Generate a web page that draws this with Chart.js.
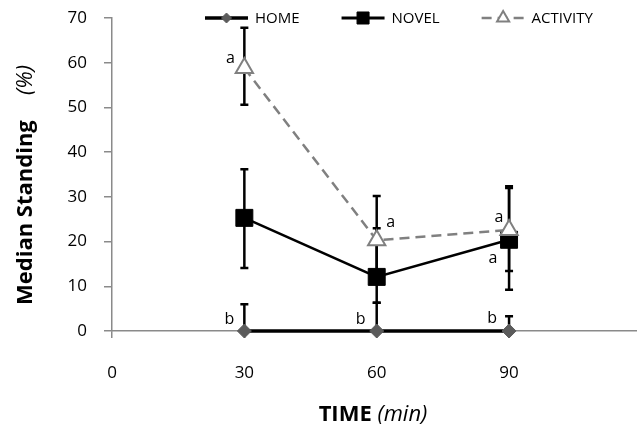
<!DOCTYPE html>
<html>
<head>
<meta charset="utf-8">
<script src="https://cdn.jsdelivr.net/npm/chart.js@4/dist/chart.umd.min.js"></script>
<style>
  html, body { margin: 0; padding: 0; background: #fff; }
  #wrap { width: 637px; height: 429px; }
</style>
</head>
<body>
<div id="wrap"><canvas id="grafica" width="637" height="429"></canvas></div>
<script>
// datos
const times = [30, 60, 90];
const xTickValues = [0, 30, 60, 90];
const yTickValues = [0, 10, 20, 30, 40, 50, 60, 70];

const seriesNames = ['HOME', 'NOVEL', 'ACTIVITY'];

const homeVals = [0, 0, 0];
const homeLow = [0, 0, 0];
const homeHigh = [6.0, 6.3, 3.3];
const homeLetters = ['b', 'b', 'b'];

const novelVals = [25.3, 12.1, 20.4];
const novelLow = [14.1, 6.3, 9.2];
const novelHigh = [36.2, 30.2, 32.4];
const novelLetters = ['', '', 'a'];

const activityVals = [58.8, 20.3, 22.6];
const activityLow = [50.6, 12.1, 13.4];
const activityHigh = [67.8, 23.0, 32.0];
const activityLetters = ['a', 'a', 'a'];

const xTitleBold = 'TIME';
const xTitleItalic = '(min)';
const yTitleBold = 'Median Standing';
const yTitleItalic = '(%)';

const FONT = "'Open Sans', 'DejaVu Sans', sans-serif";
const AXIS_GRAY = '#8a8a8a';

// desplazamiento de las letras respecto al punto (px)
const letterOffsets = [
    [[-15, -12], [-16, -12], [-17, -13]],
    [null, null, [-16, 19]],
    [[-14, -10], [14, -18], [-10, -13]]
];

function toPoints(vals) {
    return vals.map((v, i) => ({ x: times[i], y: v }));
}

function drawMarker(ctx, style, x, y, r, fill, stroke, lw) {
    ctx.save();
    ctx.beginPath();
    if (style === 'rectRot') {
        ctx.moveTo(x - r, y); ctx.lineTo(x, y - r); ctx.lineTo(x + r, y); ctx.lineTo(x, y + r);
    } else if (style === 'rect') {
        const s = r * Math.SQRT1_2;
        ctx.rect(x - s, y - s, 2 * s, 2 * s);
    } else {
        ctx.moveTo(x, y - r);
        ctx.lineTo(x + r * Math.sin(2 * Math.PI / 3), y - r * Math.cos(2 * Math.PI / 3));
        ctx.lineTo(x + r * Math.sin(4 * Math.PI / 3), y - r * Math.cos(4 * Math.PI / 3));
    }
    ctx.closePath();
    ctx.fillStyle = fill;
    ctx.fill();
    if (lw) { ctx.lineWidth = lw; ctx.strokeStyle = stroke; ctx.stroke(); }
    ctx.restore();
}

const extras = {
    id: 'extras',
    beforeDatasetsDraw(chart) {
        // barras de error
        const ctx = chart.ctx;
        const xs = chart.scales.x, ys = chart.scales.y;
        ctx.save();
        ctx.strokeStyle = '#000';
        ctx.lineWidth = 2.5;
        chart.data.datasets.forEach(ds => {
            ds.errLow.forEach((lo, i) => {
                const px = xs.getPixelForValue(times[i]);
                const y1 = ys.getPixelForValue(lo);
                const y2 = ys.getPixelForValue(ds.errHigh[i]);
                ctx.beginPath();
                ctx.moveTo(px, y1); ctx.lineTo(px, y2);
                if (ds.errHigh[i] > ds.data[i].y) { ctx.moveTo(px - 4, y2); ctx.lineTo(px + 4, y2); }
                if (lo < ds.data[i].y) { ctx.moveTo(px - 4, y1); ctx.lineTo(px + 4, y1); }
                ctx.stroke();
            });
        });
        ctx.restore();
    },
    afterDatasetsDraw(chart) {
        // letras de significancia
        const ctx = chart.ctx;
        const xs = chart.scales.x, ys = chart.scales.y;
        ctx.save();
        ctx.font = '16px ' + FONT;
        ctx.fillStyle = '#000';
        ctx.textAlign = 'center';
        ctx.textBaseline = 'middle';
        chart.data.datasets.forEach((ds, d) => {
            ds.letters.forEach((t, i) => {
                if (!t) return;
                const off = letterOffsets[d][i];
                ctx.fillText(t, xs.getPixelForValue(times[i]) + off[0], ys.getPixelForValue(ds.data[i].y) + off[1]);
            });
        });
        ctx.restore();
    },
    afterDraw(chart) {
        const ctx = chart.ctx;
        const area = chart.chartArea;
        ctx.save();

        // leyenda
        let lx = area.left + 93;
        const ly = area.top;
        ctx.font = '15px ' + FONT;
        ctx.textBaseline = 'middle';
        ctx.textAlign = 'left';
        chart.data.datasets.forEach(ds => {
            ctx.save();
            ctx.strokeStyle = ds.borderColor;
            ctx.lineWidth = ds.legendLineWidth;
            ctx.setLineDash(ds.borderDash || []);
            ctx.beginPath();
            ctx.moveTo(lx, ly); ctx.lineTo(lx + 43, ly);
            ctx.stroke();
            ctx.restore();
            drawMarker(ctx, ds.pointStyle, lx + 21.5, ly, ds.legendRadius,
                ds.pointBackgroundColor, ds.pointBorderColor, ds.pointBorderWidth);
            ctx.fillStyle = '#000';
            ctx.fillText(ds.label, lx + 50, ly + 1);
            lx += 50 + ctx.measureText(ds.label).width + 42;
        });

        // titulo eje x
        ctx.textBaseline = 'alphabetic';
        ctx.font = 'bold 22px ' + FONT;
        const wb = ctx.measureText(xTitleBold + ' ').width;
        ctx.font = 'italic 22px ' + FONT;
        const wi = ctx.measureText(xTitleItalic).width;
        let tx = 373 - (wb + wi) / 2;
        ctx.font = 'bold 22px ' + FONT;
        ctx.fillText(xTitleBold, tx, 421);
        ctx.font = 'italic 22px ' + FONT;
        ctx.fillText(xTitleItalic, tx + wb, 421);

        // titulo eje y
        ctx.translate(32, 305);
        ctx.rotate(-Math.PI / 2);
        ctx.font = 'bold 22px ' + FONT;
        ctx.fillText(yTitleBold, 0, 0);
        ctx.font = 'italic 22px ' + FONT;
        ctx.fillText(yTitleItalic, 210, 0);
        ctx.restore();
    }
};

const ctx = document.getElementById('grafica').getContext('2d');

new Chart(ctx, {
    type: 'line',
    data: {
        datasets: [
            {
                label: seriesNames[0],
                data: toPoints(homeVals),
                errLow: homeLow, errHigh: homeHigh, letters: homeLetters,
                borderColor: '#000',
                borderWidth: 3.5,
                legendLineWidth: 3.5,
                pointStyle: 'rectRot',
                pointRadius: 7,
                legendRadius: 5,
                pointBackgroundColor: '#5b5b5b',
                pointBorderColor: '#5b5b5b',
                pointBorderWidth: 1,
                order: 2,
                clip: false
            },
            {
                label: seriesNames[1],
                data: toPoints(novelVals),
                errLow: novelLow, errHigh: novelHigh, letters: novelLetters,
                borderColor: '#000',
                borderWidth: 2.5,
                legendLineWidth: 3,
                pointStyle: 'rect',
                pointRadius: 12,
                legendRadius: 8.5,
                pointBackgroundColor: '#000',
                pointBorderColor: '#000',
                pointBorderWidth: 1,
                order: 1,
                clip: false
            },
            {
                label: seriesNames[2],
                data: toPoints(activityVals),
                errLow: activityLow, errHigh: activityHigh, letters: activityLetters,
                borderColor: '#808080',
                borderWidth: 2.5,
                legendLineWidth: 2.5,
                borderDash: [10, 6],
                pointStyle: 'triangle',
                pointRadius: 10,
                legendRadius: 7,
                pointBackgroundColor: '#fff',
                pointBorderColor: '#808080',
                pointBorderWidth: 2,
                order: 0,
                clip: false
            }
        ]
    },
    options: {
        responsive: false,
        animation: false,
        events: [],
        layout: { autoPadding: false, padding: { left: 40, top: 18, right: 0, bottom: 0 } },
        plugins: {
            legend: { display: false },
            tooltip: { enabled: false }
        },
        scales: {
            x: {
                type: 'linear',
                min: 0,
                max: 119,
                afterFit: s => { s.height = 98; s.paddingLeft = 0; s.paddingRight = 0; },
                afterBuildTicks: s => { s.ticks = xTickValues.map(v => ({ value: v })); },
                border: { color: AXIS_GRAY, width: 1.5 },
                grid: { drawOnChartArea: false, drawTicks: true, tickLength: 7, color: AXIS_GRAY, lineWidth: 1.5 },
                ticks: { color: '#000', padding: 25, font: { family: FONT, size: 17 } }
            },
            y: {
                min: 0,
                max: 70,
                afterFit: s => { s.width = 72; s.paddingTop = 0; s.paddingBottom = 0; },
                afterBuildTicks: s => { s.ticks = yTickValues.map(v => ({ value: v })); },
                border: { color: AXIS_GRAY, width: 1.5 },
                grid: { drawOnChartArea: false, drawTicks: true, tickLength: 8, color: AXIS_GRAY, lineWidth: 1.5 },
                ticks: { color: '#000', padding: 17, font: { family: FONT, size: 17 } }
            }
        }
    },
    plugins: [extras]
});
</script>
</body>
</html>
